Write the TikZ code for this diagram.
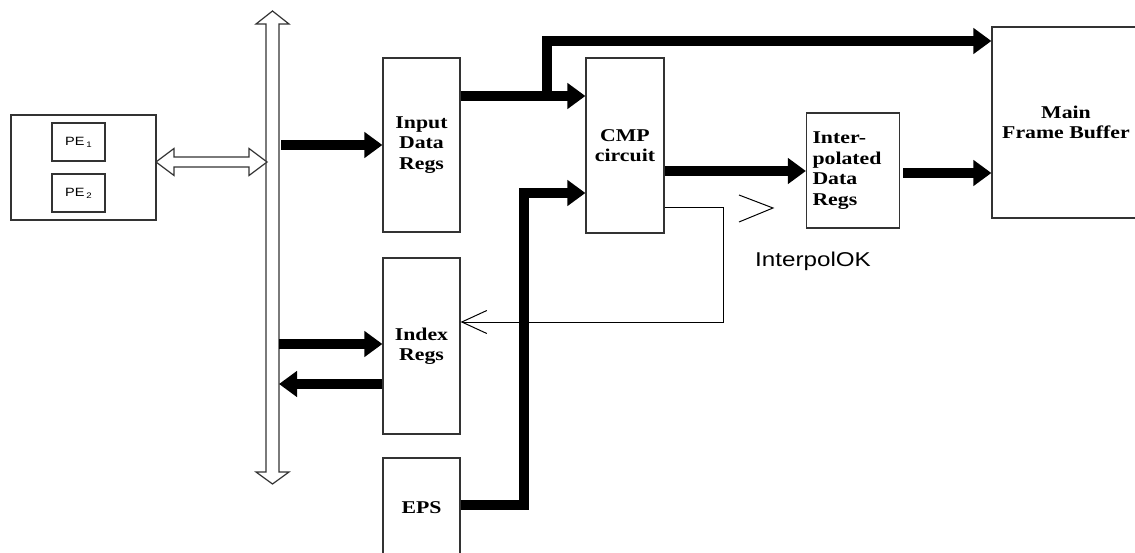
\documentclass[tikz,border=0pt]{standalone}
\usepackage{fontspec}
\usetikzlibrary{arrows.meta}
\newfontfamily\serifb{Liberation Serif}[FakeStretch=1.21]
\newfontfamily\sansf{Liberation Sans}[FakeStretch=1.21]
\begin{document}
\begin{tikzpicture}[x=1pt,y=-1pt,
  blk/.style={draw=black!80, line width=1.2pt, inner sep=0pt, fill=white},
  lbl/.style={font=\serifb\bfseries\fontsize{18}{20.5}\selectfont, align=center},
  pelbl/.style={font=\sansf\fontsize{12}{14}\selectfont},
  fat/.style={line width=10.5pt, -{Triangle[length=18pt,width=25pt]}, line join=miter},
  fatline/.style={line width=10.5pt, line join=miter},
  thinline/.style={line width=1pt, black},
  hollow/.style={draw=black!80, line width=1.2pt, fill=white, line join=miter},
]
\useasboundingbox (0,0) rectangle (1135,553);
\fill[white] (0,0) rectangle (1135,553);
\clip (0,0) rectangle (1135,553);

% processing elements
\node[blk, minimum width=145pt, minimum height=105pt] (pe) at (83.5,167.5) {};
\node[blk, minimum width=53pt, minimum height=38pt, pelbl] (pe1) at (78.5,142) {PE\,\raisebox{-2pt}{\fontsize{8}{9}\selectfont 1}};
\node[blk, minimum width=53pt, minimum height=38pt, pelbl] (pe2) at (78.5,193) {PE\,\raisebox{-2pt}{\fontsize{8}{9}\selectfont 2}};

% bus (hollow double arrow, vertical)
\draw[hollow] (266,24) -- (256,24) -- (272.5,11) -- (289,24) -- (279,24) -- (279,472)
  -- (289,472) -- (272.5,484) -- (256,472) -- (266,472) -- cycle;
\coordinate (b1) at (281,145);
\coordinate (b2) at (279,344);
\coordinate (b3) at (279,384);

% hollow double arrow PE <-> bus
\draw[hollow] (156,162) -- (174,148.5) -- (174,157) -- (249,157) -- (249,148.5) -- (267,162)
  -- (249,175.5) -- (249,167) -- (174,167) -- (174,175.5) -- cycle;

% blocks
\node[blk, minimum width=77pt, minimum height=174pt, lbl] (Input) at (421.5,145) {Input\\Data\\Regs};
\node[blk, minimum width=78pt, minimum height=175pt, lbl] (CMP) at (625,145.5) {CMP\\circuit};
\node[blk, minimum width=93pt, minimum height=115pt, lbl, text width=81pt, align=left] (Interp) at (853,170.5) {Inter-\\polated\\Data\\Regs};
\node[blk, minimum width=148pt, minimum height=191pt, lbl] (Main) at (1066,122.5) {Main\\Frame Buffer};
\node[blk, minimum width=77pt, minimum height=176pt, lbl] (Index) at (421.5,346) {Index\\Regs};
\node[blk, minimum width=77pt, minimum height=100pt, lbl] (EPS) at (421.5,508) {EPS};

% thick connectors
\draw[fat] (b1) -- (Input.west |- b1);
\draw[fat] (b2) -- (Index.west |- b2);
\draw[fat] (Index.west |- b3) -- (b3);
\draw[fat] (Input.east |- 0,96) -- (CMP.west |- 0,96);
\draw[fat] (547,96) -- (547,41) -- (Main.west |- 0,41);
\draw[fat] (EPS.east |- 0,505) -- (524,505) -- (524,193) -- (CMP.west |- 0,193);
\draw[fat] (CMP.east |- 0,171) -- (Interp.west |- 0,171);
\draw[fat] ([xshift=3pt]Interp.east |- 0,173) -- (Main.west |- 0,173);

% thin feedback
\draw[thinline, -{Straight Barb[length=25pt,width=23pt]}] (CMP.east |- 0,208) -- (723,208) -- (723,322) -- (Index.east |- 0,322);
\coordinate (chev) at (773,208);
\draw[thinline] (739,195) -- (chev) -- (739,222);

\node[font=\sansf\fontsize{20}{24}\selectfont] (ok) at (813,261) {InterpolOK};
\end{tikzpicture}
\end{document}
